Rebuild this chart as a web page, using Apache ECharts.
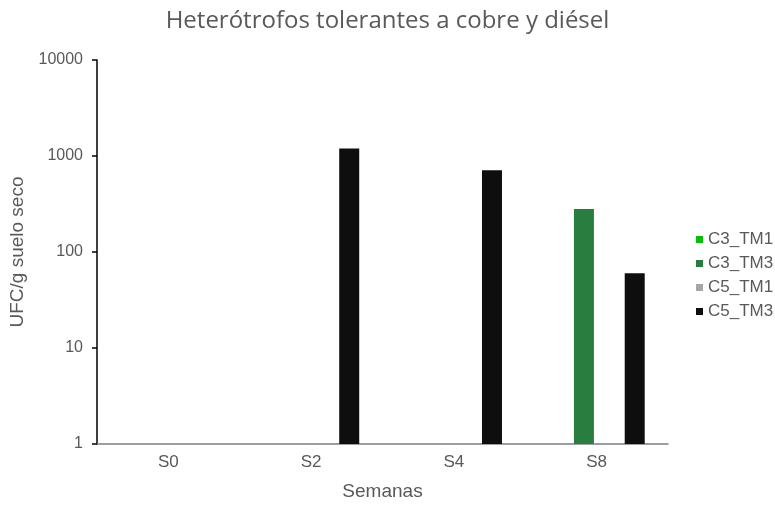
<!DOCTYPE html>
<html><head><meta charset="utf-8">
<script src="https://cdn.jsdelivr.net/npm/echarts@6/dist/echarts.min.js"></script>
<style>html,body{margin:0;padding:0;background:#fff}#c{width:775px;height:506px}</style>
</head><body><div id="c"></div>
<script>
var categories = ['S0', 'S2', 'S4', 'S8'];
var seriesNames = ['C3_TM1', 'C3_TM3', 'C5_TM1', 'C5_TM3'];
var c3_tm1 = [null, null, null, null];
var c3_tm3 = [null, null, null, 280];
var c5_tm1 = [null, null, null, null];
var c5_tm3 = [null, 1200, 710, 60];
var colors = ['#00c000', '#287d3f', '#a6a6a6', '#0e0e0e'];
var allData = [c3_tm1, c3_tm3, c5_tm1, c5_tm3];

var chart = echarts.init(document.getElementById('c'));
var txt = '#595959';
chart.setOption({
  animation: false,
  title: {
    text: 'Heterótrofos tolerantes a cobre y diésel',
    left: 'center', top: 4,
    textStyle: { fontFamily: 'Open Sans', fontSize: 24, fontWeight: 'normal', color: txt }
  },
  legend: {
    orient: 'vertical', left: 691, top: 226, itemWidth: 7, itemHeight: 7, itemGap: 7,
    icon: 'rect',
    textStyle: { fontFamily: 'Liberation Sans', fontSize: 17, color: txt },
    data: seriesNames
  },
  grid: { left: 97, right: 107, top: 60, bottom: 59 },
  xAxis: {
    type: 'category', data: categories,
    axisLine: { lineStyle: { color: '#7f7f7f', width: 1.5 } },
    axisTick: { show: false },
    axisLabel: { fontFamily: 'Liberation Sans', fontSize: 17, color: txt, margin: 10 },
    name: 'Semanas', nameLocation: 'middle', nameGap: 38,
    nameTextStyle: { fontFamily: 'Liberation Sans', fontSize: 19, color: txt }
  },
  yAxis: {
    type: 'log', logBase: 10, min: 1, max: 10000,
    splitLine: { show: false },
    axisLine: { show: true, lineStyle: { color: '#000', width: 1.5 } },
    axisTick: { show: true, length: 5, lineStyle: { color: '#000', width: 1.5 } },
    axisLabel: { fontFamily: 'Liberation Sans', fontSize: 16, color: txt, margin: 14,
      formatter: function (v) { return String(Math.round(v)); } },
    name: 'UFC/g suelo seco', nameLocation: 'middle', nameGap: 68,
    nameTextStyle: { fontFamily: 'Liberation Sans', fontSize: 19, color: txt }
  },
  series: seriesNames.map(function (n, i) {
    return {
      name: n, type: 'bar', data: allData[i], barWidth: 20, barGap: '27%',
      itemStyle: { color: colors[i] }
    };
  })
});
</script></body></html>
